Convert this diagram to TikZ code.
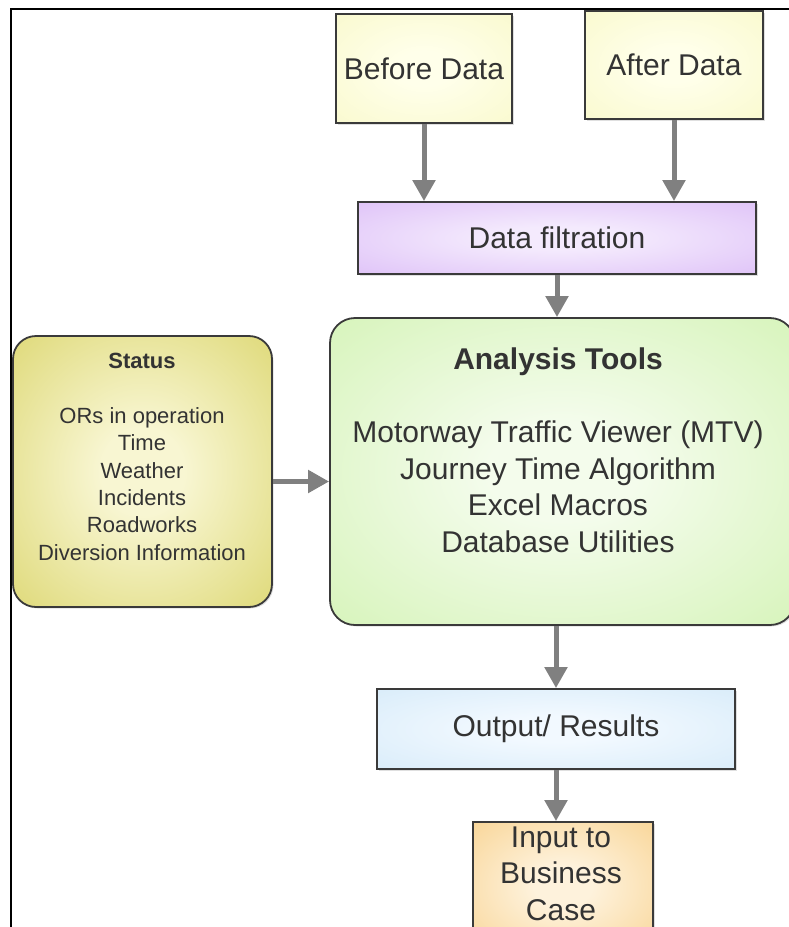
\documentclass[tikz,border=0pt]{standalone}
\usepackage{fontspec}
\setmainfont{Liberation Sans}
\usetikzlibrary{arrows.meta,shadows}

% soft radial glow: light centre fading to the box colour at the rim
\makeatletter
\pgfdeclareradialshading[tikz@radial@inner,tikz@radial@outer]{glow}{\pgfpoint{0bp}{0bp}}{%
  color(0bp)=(tikz@radial@inner); color(8bp)=(tikz@radial@inner); color(50bp)=(tikz@radial@outer)}
\makeatother

\definecolor{edge}{HTML}{3A3A3A}
\definecolor{arrowgray}{HTML}{808080}
\definecolor{txt}{HTML}{333333}
\definecolor{dataIn}{HTML}{FFFFEA}  \definecolor{dataOut}{HTML}{F7F7C2}
\definecolor{filtIn}{HTML}{F4EAFD}  \definecolor{filtOut}{HTML}{D5B0F5}
\definecolor{statIn}{HTML}{F8F6D2}  \definecolor{statOut}{HTML}{D2CB4C}
\definecolor{toolIn}{HTML}{F4FCEC}  \definecolor{toolOut}{HTML}{C8F0A2}
\definecolor{outIn}{HTML}{F2F9FF}   \definecolor{outOut}{HTML}{CDE6F7}
\definecolor{bizIn}{HTML}{FEF2DC}   \definecolor{bizOut}{HTML}{F6C877}

\newcommand\bigtxt{\fontsize{30}{36.5}\selectfont}
\newcommand\smalltxt{\fontsize{22}{27.3}\selectfont}

\begin{document}
\begin{tikzpicture}[x=1pt,y=-1pt,
  box/.style={draw=edge, line width=1.8pt, inner sep=0pt, text=txt, font=\bigtxt,
    drop shadow={shadow xshift=1.5pt, shadow yshift=-1.5pt, opacity=0.25}},
  glowfill/.style 2 args={inner color=#1, outer color=#2, shading=glow},
  label/.style={text=txt, align=center, inner sep=0pt, anchor=base},
  arrow/.style={draw=arrowgray, line width=5pt, -{Triangle[width=22pt,length=21pt]}}]

\useasboundingbox (0,0) rectangle (789,927);
\clip (0,0) rectangle (789,927);

% outer frame (left and top edges)
\draw[line width=2.5pt, black] (11,940) -- (11,9) -- (800,9);

% input data
\node[box, glowfill={dataIn}{dataOut}, minimum width=176pt, minimum height=109pt]
  (before) at (424,68.5) {Before Data};
\node[box, glowfill={dataIn}{dataOut}, minimum width=178pt, minimum height=108pt]
  (after) at (674,65) {After Data};

% filtering stage
\node[box, glowfill={filtIn}{filtOut}, minimum width=398pt, minimum height=72pt]
  (filter) at (557,238) {Data filtration};

% status information (text node anchored at the baseline of its last line)
\node[box, glowfill={statIn}{statOut}, rounded corners=23pt,
  minimum width=259pt, minimum height=271pt] (status) at (142.5,471.5) {};
\node[label, font=\smalltxt] (statustext) at (142,560)
  {\textbf{Status}\\[27.3pt]ORs in operation\\Time\\Weather\\Incidents\\Roadworks\\Diversion Information};

% analysis tools
\node[box, glowfill={toolIn}{toolOut}, rounded corners=25pt,
  minimum width=465pt, minimum height=307pt] (tools) at (562.5,471.5) {};
\node[label, font=\bigtxt] (toolstext) at (558,552)
  {\textbf{Analysis Tools}\\[36.5pt]Motorway Traffic Viewer (MTV)\\Journey Time Algorithm\\Excel Macros\\Database Utilities};

% results
\node[box, glowfill={outIn}{outOut}, minimum width=358pt, minimum height=80pt]
  (output) at (556,729) {Output/ Results};
\node[box, glowfill={bizIn}{bizOut}, minimum width=180pt, minimum height=128pt]
  (business) at (563,886) {};
\node[label, font=\bigtxt] (businesstext) at (561,920) {Input to\\Business\\Case};

% flow arrows
\draw[arrow] (before.south) -- (before.south |- filter.north);
\draw[arrow] (after.south) -- (after.south |- filter.north);
\draw[arrow] (filter.south) -- (filter.south |- tools.north);
\draw[arrow] ([yshift=-10pt]status.east) -- ([yshift=-10pt]status.east -| tools.west);
\draw[arrow] (output.north |- tools.south) -- (output.north);
\draw[arrow] (output.south) -- (output.south |- business.north);
\end{tikzpicture}
\end{document}
